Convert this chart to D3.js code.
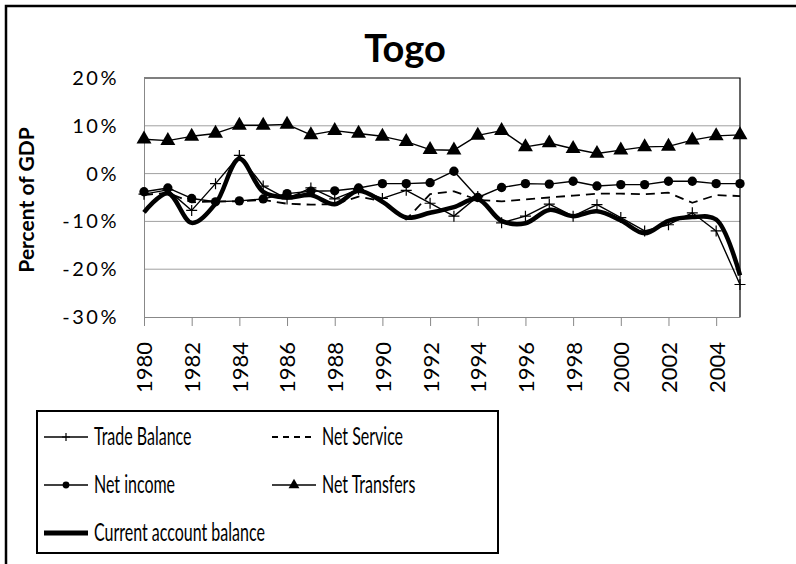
<!DOCTYPE html>
<html>
<head>
<meta charset="utf-8">
<script src="https://cdn.jsdelivr.net/npm/d3@7"></script>
<style>
  body { margin: 0; background: #fff; overflow: hidden; }
  svg { display: block; }
  text { font-family: Lato, 'Open Sans', sans-serif; fill: #000; }
</style>
</head>
<body>
<div id="chart"></div>
<script>
////// 資料 //////
var years = d3.range(1980, 2006);
var yTicks = [-30, -20, -10, 0, 10, 20];
var xTicks = years.filter(d => d % 2 == 0);
// 各系列 (% of GDP)
var tradeBalance = [-4.3, -3.4, -7.7, -2.1, 3.8, -2.6, -5.3, -3.0, -5.3, -3.3, -5.2, -3.5, -6.2, -8.9, -4.8, -10.3, -8.9, -6.4, -8.9, -6.5, -9.2, -12.0, -10.7, -8.2, -12.0, -23.2];
var netService = [-4.5, -4.0, -6.0, -5.8, -5.8, -5.5, -6.3, -6.5, -6.4, -4.8, -5.8, -9.6, -4.3, -3.7, -5.5, -5.8, -5.4, -5.0, -4.6, -4.2, -4.2, -4.3, -4.0, -6.1, -4.5, -4.7];
var netIncome = [-3.8, -3.0, -5.2, -5.9, -5.7, -5.3, -4.2, -3.7, -3.6, -3.0, -2.1, -2.1, -1.9, 0.5, -5.0, -2.9, -2.1, -2.2, -1.6, -2.6, -2.3, -2.3, -1.6, -1.6, -2.1, -2.1];
var netTransfers = [7.2, 6.9, 7.8, 8.4, 10.1, 10.1, 10.3, 8.1, 9.0, 8.4, 7.8, 6.7, 5.0, 4.9, 8.0, 9.0, 5.6, 6.4, 5.2, 4.2, 4.9, 5.6, 5.7, 7.0, 7.9, 8.1];
var currentAccount = [-8.1, -4.1, -10.3, -6.3, 3.1, -3.8, -5.0, -4.5, -6.4, -3.6, -5.9, -9.2, -8.2, -7.0, -5.3, -9.9, -10.4, -7.6, -8.9, -7.9, -9.8, -12.5, -9.9, -9.1, -9.6, -21.3];

var seriesNames = ['Trade Balance', 'Net Service', 'Net income', 'Net Transfers', 'Current account balance'];
var seriesValues = [tradeBalance, netService, netIncome, netTransfers, currentAccount];
var seriesMarker = ['plus', 'none', 'circle', 'triangle', 'none'];

////// 畫布 //////
const width = 796;
const height = 564;
const plot = {left: 144, right: 740, top: 78, bottom: 317};

var svg = d3.select('#chart')
  .append('svg')
    .attr('width', width)
    .attr('height', height);

// 外框
svg.append('rect')
  .attr('x', 6)
  .attr('y', 6)
  .attr('width', 810)
  .attr('height', 580)
  .style('fill', 'none')
  .style('stroke', '#000')
  .style('stroke-width', 2.5);

var x = d3.scaleLinear()
  .domain([1980, 2005])
  .range([plot.left, plot.right]);
var y = d3.scaleLinear()
  .domain([-30, 20])
  .range([plot.bottom, plot.top]);

// 格線
svg.selectAll('line.grid')
  .data(yTicks.filter(d => d > -30 && d < 20))
  .enter()
  .append('line')
  .attr('class', 'grid')
  .attr('x1', plot.left)
  .attr('x2', plot.right)
  .attr('y1', d => y(d))
  .attr('y2', d => y(d))
  .style('stroke', '#a0a0a0')
  .style('stroke-width', 1);

// 圖區上、右框線
svg.append('path')
  .attr('d', `M${plot.left},${y(20)}H${plot.right}V${y(-30)}`)
  .style('fill', 'none')
  .style('stroke', '#000')
  .style('stroke-width', 1.2);

// X軸
var xAxis = d3.axisBottom(x)
  .tickValues(xTicks)
  .tickSize(9)
  .tickSizeOuter(0)
  .tickFormat(d3.format('d'));
var gx = svg.append('g')
  .attr('transform', `translate(0, ${plot.bottom})`)
  .call(xAxis);
gx.select('.domain').style('stroke', '#888');
gx.selectAll('.tick line').style('stroke', '#888');
gx.selectAll('.tick text')
  .attr('transform', 'rotate(-90)')
  .attr('x', -25)
  .attr('y', 0)
  .attr('dy', '0.36em')
  .style('text-anchor', 'end')
  .style('font-size', '22px')
  .style('font-family', 'Lato, sans-serif');

// Y軸
var yAxis = d3.axisLeft(y)
  .tickValues(yTicks)
  .tickSize(0)
  .tickPadding(25)
  .tickFormat(d => d + '%');
var gy = svg.append('g')
  .attr('transform', `translate(${plot.left}, 0)`)
  .call(yAxis);
gy.select('.domain').style('stroke', '#888');
gy.selectAll('.tick text')
  .style('font-size', '20px')
  .style('letter-spacing', '2.5px')
  .style('font-family', 'Lato, sans-serif');

// Y軸標題
svg.append('text')
  .attr('transform', 'translate(34, 200) rotate(-90)')
  .style('text-anchor', 'middle')
  .style('font-size', '21px')
  .style('font-weight', 'bold')
  .text('Percent of GDP');

// 標題
svg.append('text')
  .attr('x', 405)
  .attr('y', 62)
  .style('text-anchor', 'middle')
  .style('font-size', '38px')
  .style('font-weight', 'bold')
  .text('Togo');

////// 線 //////
var line = d3.line()
  .x((d, i) => x(years[i]))
  .y(d => y(d));
var smoothLine = d3.line()
  .x((d, i) => x(years[i]))
  .y(d => y(d))
  .curve(d3.curveCatmullRom);

// 畫標記
function drawMarker(g, type, size) {
  if (type == 'plus') {
    g.append('path')
      .attr('d', `M${-size},0H${size}M0,${-size}V${size}`)
      .style('stroke', '#000')
      .style('stroke-width', 1.2);
  } else if (type == 'circle') {
    g.append('circle')
      .attr('r', size * 0.85)
      .style('fill', '#000');
  } else if (type == 'triangle') {
    g.append('path')
      .attr('d', d3.symbol().type(d3.symbolTriangle).size(size * size * 3.2)())
      .style('fill', '#000');
  }
}

seriesValues.forEach(function(vals, k) {
  var path = svg.append('path')
    .datum(vals)
    .attr('d', k == 4 ? smoothLine : line)
    .style('fill', 'none')
    .style('stroke', '#000')
    .style('stroke-linejoin', 'round')
    .style('stroke-width', k == 4 ? 4.5 : (k == 1 ? 1.8 : 1.4));
  if (k == 1) path.style('stroke-dasharray', '9,6');
  if (seriesMarker[k] != 'none') {
    svg.selectAll(`g.mk${k}`)
      .data(vals)
      .enter()
      .append('g')
      .attr('class', `mk${k}`)
      .attr('transform', (d, i) => `translate(${x(years[i])}, ${y(d)})`)
      .each(function() { drawMarker(d3.select(this), seriesMarker[k], 5.5); });
  }
});

////// 圖例 //////
svg.append('rect')
  .attr('x', 37)
  .attr('y', 411)
  .attr('width', 461)
  .attr('height', 142)
  .style('fill', '#fff')
  .style('stroke', '#000')
  .style('stroke-width', 2);

var legendCol = [44, 272];
var legendRow = [437, 485, 533];
var legendPos = [[0, 0], [1, 0], [0, 1], [1, 1], [0, 2]];
seriesNames.forEach(function(name, k) {
  var lx = legendCol[legendPos[k][0]];
  var ly = legendRow[legendPos[k][1]];
  var g = svg.append('g').attr('transform', `translate(${lx}, ${ly})`);
  var ln = g.append('line')
    .attr('x1', 0)
    .attr('x2', 44)
    .style('stroke', '#000')
    .style('stroke-width', k == 4 ? 5 : (k == 1 ? 1.8 : 1.4));
  if (k == 1) ln.style('stroke-dasharray', '6,5');
  if (seriesMarker[k] != 'none') {
    drawMarker(g.append('g').attr('transform', 'translate(22, 0)'), seriesMarker[k], 4);
  }
  g.append('text')
    .attr('transform', 'translate(50, 8) scale(0.64, 1)')
    .style('font-size', '25px')
    .text(name);
});
</script>
</body>
</html>
